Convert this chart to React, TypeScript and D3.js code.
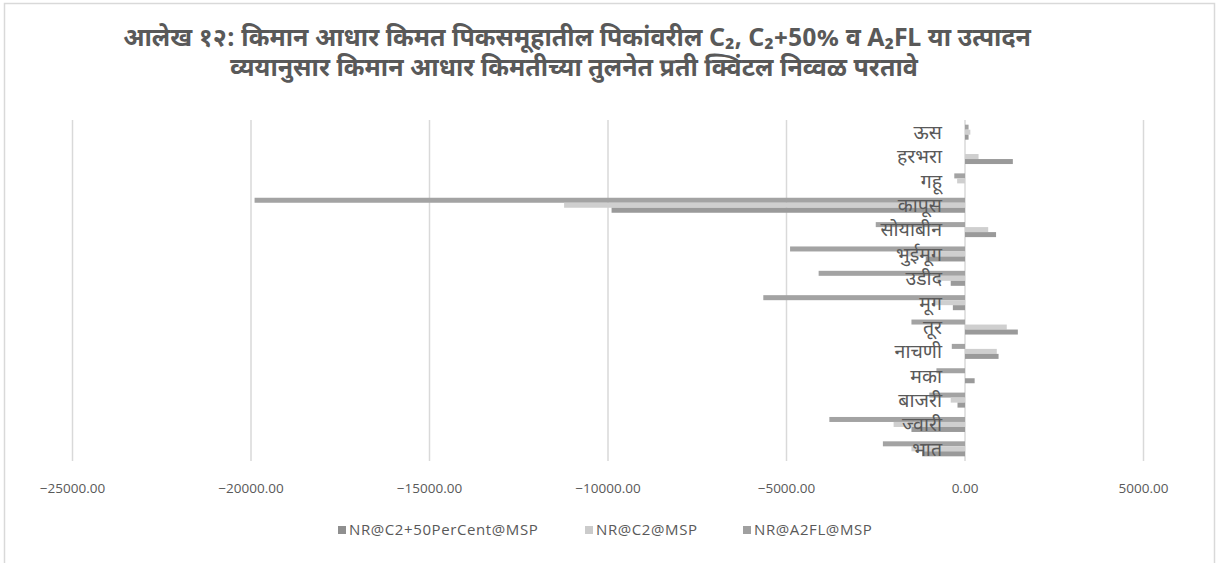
import React from "react";
import * as d3 from "d3";

const categories = ["भात", "ज्वारी", "बाजरी", "मका", "नाचणी", "तूर", "मूग", "उडीद", "भुईमूग", "सोयाबीन", "कापूस", "गहू", "हरभरा", "ऊस"];
const nrC2Plus50 = [-2300, -3800, -1000, -800, -370, -1500, -5650, -4100, -4900, -2500, -19900, -300, 0, 100];
const nrC2 = [-1500, -2000, -400, 0, 890, 1170, -900, -800, -1600, 650, -11230, -220, 380, 150];
const nrA2FL = [-1200, -1500, -210, 270, 940, 1480, -340, -400, -1100, 870, -9900, 0, 1340, 100];
const seriesNames = ["NR@C2+50PerCent@MSP", "NR@C2@MSP", "NR@A2FL@MSP"];
const seriesColors = ["#a3a3a3", "#cfcfcf", "#9a9a9a"];
const legendSwatchColors = ["#8f8f8f", "#cbcbcb", "#a0a0a0"];
const xTicks = [-25000, -20000, -15000, -10000, -5000, 0, 5000];
const titleLines = [
  "आलेख १२: किमान आधार किमत पिकसमूहातील पिकांवरील C₂, C₂+50%  व A₂FL या उत्पादन",
  "व्ययानुसार किमान आधार किमतीच्या तुलनेत प्रती क्विंटल निव्वळ परतावे",
];

const W = 1222;
const H = 563;
const textColor = "#595959";
const deva = "'Noto Sans Devanagari', 'Noto Sans', 'Open Sans', sans-serif";
const latin = "'Open Sans', 'Noto Sans', sans-serif";

export default function App() {
  const seriesData = [nrC2Plus50, nrC2, nrA2FL];
  const x = d3.scaleLinear().domain([-25000, 5000]).range([72.5, 1143.5]);
  const topToBottom = [...categories].reverse();
  const y = d3.scaleBand<string>().domain(topToBottom).range([120, 461]).paddingInner(0.384).paddingOuter(0.192);
  const ys = d3.scaleBand<string>().domain(seriesNames).range([0, y.bandwidth()]);
  const fmt = d3.format(".2f");
  const legendX = [338, 585, 743];

  return (
    <svg width={W} height={H} style={{ position: "absolute", left: 0, top: 0, background: "#fff" }}>
      <rect x={4.5} y={3.5} width={1210} height={H + 20} fill="#fff" stroke="#d9d9d9" strokeWidth={1.5} />
      {titleLines.map((t, i) => (
        <text
          key={"title" + i}
          x={i === 0 ? 577 : 574}
          y={46 + i * 30}
          textAnchor="middle"
          fontFamily={deva}
          fontWeight="bold"
          fontSize={25}
          fill={textColor}
        >
          {t}
        </text>
      ))}
      {xTicks.map((t) => (
        <line key={"g" + t} x1={x(t)} x2={x(t)} y1={120} y2={461} stroke="#d9d9d9" strokeWidth={1.5} />
      ))}
      {categories.map((c, ci) =>
        seriesData.map((s, si) => {
          const v = s[ci];
          const x0 = x(Math.min(0, v));
          const x1 = x(Math.max(0, v));
          return (
            <rect
              key={c + si}
              x={x0}
              width={x1 - x0}
              y={(y(c) as number) + (ys(seriesNames[si]) as number)}
              height={ys.bandwidth()}
              fill={seriesColors[si]}
            />
          );
        })
      )}
      {categories.map((c) => (
        <text
          key={"l" + c}
          x={942}
          y={(y(c) as number) + y.bandwidth() / 2}
          dy="0.35em"
          textAnchor="end"
          fontFamily={deva}
          fontSize={19.5}
          fill={textColor}
        >
          {c}
        </text>
      ))}
      {xTicks.map((t) => (
        <text key={"t" + t} x={x(t)} y={493} textAnchor="middle" fontFamily={latin} fontSize={13.5} fill={textColor}>
          {fmt(t)}
        </text>
      ))}
      {seriesNames.map((n, i) => (
        <g key={n}>
          <rect x={legendX[i]} y={526} width={8} height={8} fill={legendSwatchColors[i]} />
          <text x={legendX[i] + 11} y={535} fontFamily={latin} fontSize={15} letterSpacing={0.6} fill={textColor}>
            {n}
          </text>
        </g>
      ))}
    </svg>
  );
}
